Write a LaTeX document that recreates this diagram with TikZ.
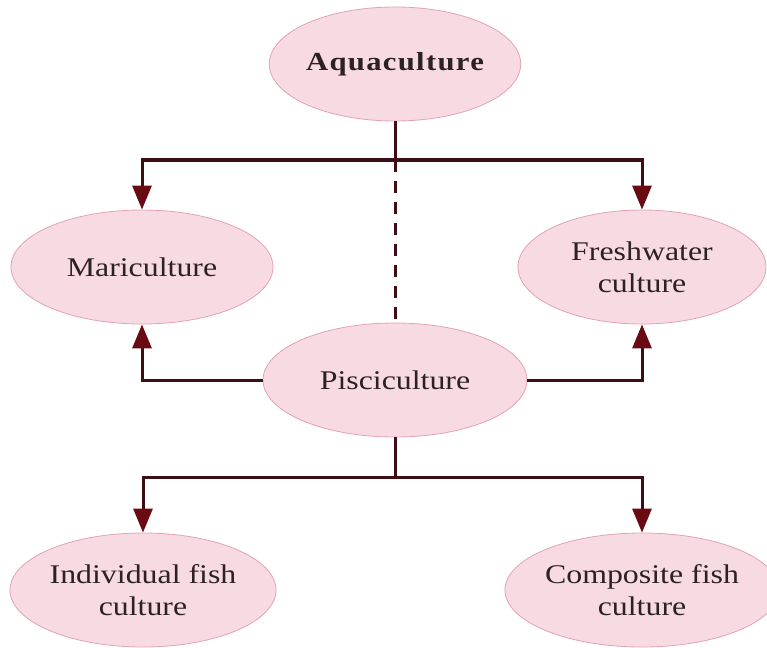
\documentclass[tikz,border=0pt]{standalone}
\usepackage{fontspec}
\setmainfont[FakeStretch=1.18]{Liberation Serif}
\usetikzlibrary{arrows.meta,shapes.geometric}
\definecolor{pinkin}{HTML}{F8DAE2}
\definecolor{pinkmid}{HTML}{F1C2D0}
\definecolor{pinkout}{HTML}{E8A5B9}
\definecolor{pinkedge}{HTML}{E3A2B5}
\definecolor{linec}{HTML}{3E0E14}
\definecolor{arrowc}{HTML}{6A0A12}
\definecolor{textc}{HTML}{2A2224}
\pgfdeclareradialshading{blobshade}{\pgfpoint{0bp}{0bp}}{color(0bp)=(pinkin); color(26bp)=(pinkin); color(43bp)=(pinkmid); color(50bp)=(pinkout)}
\begin{document}
\begin{tikzpicture}[x=1pt,y=-1pt,
  blob/.style={ellipse, inner sep=0pt, draw=pinkedge, line width=0.8pt,
    shade, shading=blobshade, minimum height=114pt,
    font=\fontsize{27}{32}\selectfont, align=center, text=textc},
  conn/.style={draw=linec, line width=3pt},
  arr/.style={conn, -{Triangle[length=24pt,width=19pt,color=arrowc]}},
  dashconn/.style={conn, dash pattern=on 12pt off 9pt}]
\fill[white] (0,0) rectangle (767,647);
\useasboundingbox (0,0) rectangle (767,647);

\node[blob, minimum width=246pt, font=\bfseries\fontsize{26}{32}\selectfont\addfontfeature{LetterSpace=5}] (aqua) at (395,64) {Aquaculture};
\node[blob, minimum width=262pt] (mari) at (142,267) {Mariculture};
\node[blob, minimum width=248pt] (fresh) at (642,267) {Freshwater\\culture};
\node[blob, minimum width=264pt] (pisc) at (395,380) {Pisciculture};
\node[blob, minimum width=266pt] (ind) at (143,590) {Individual fish\\culture};
\node[blob, minimum width=250pt] (comp) at (642,590) {Composite fish\\culture};

\coordinate (tb) at (395,160);
\coordinate (bb) at (395,477);

\draw[conn] (aqua.south) -- (tb);
\draw[arr] (tb) -| (mari.north);
\draw[arr] (tb) -| (fresh.north);
\draw[dashconn] (tb) -- (pisc.north);
\draw[arr] (pisc.west) -| (mari.south);
\draw[arr] (pisc.east) -| (fresh.south);
\draw[conn] (pisc.south) -- (bb);
\draw[arr] (bb) -| (ind.north);
\draw[arr] (bb) -| (comp.north);
\end{tikzpicture}
\end{document}
